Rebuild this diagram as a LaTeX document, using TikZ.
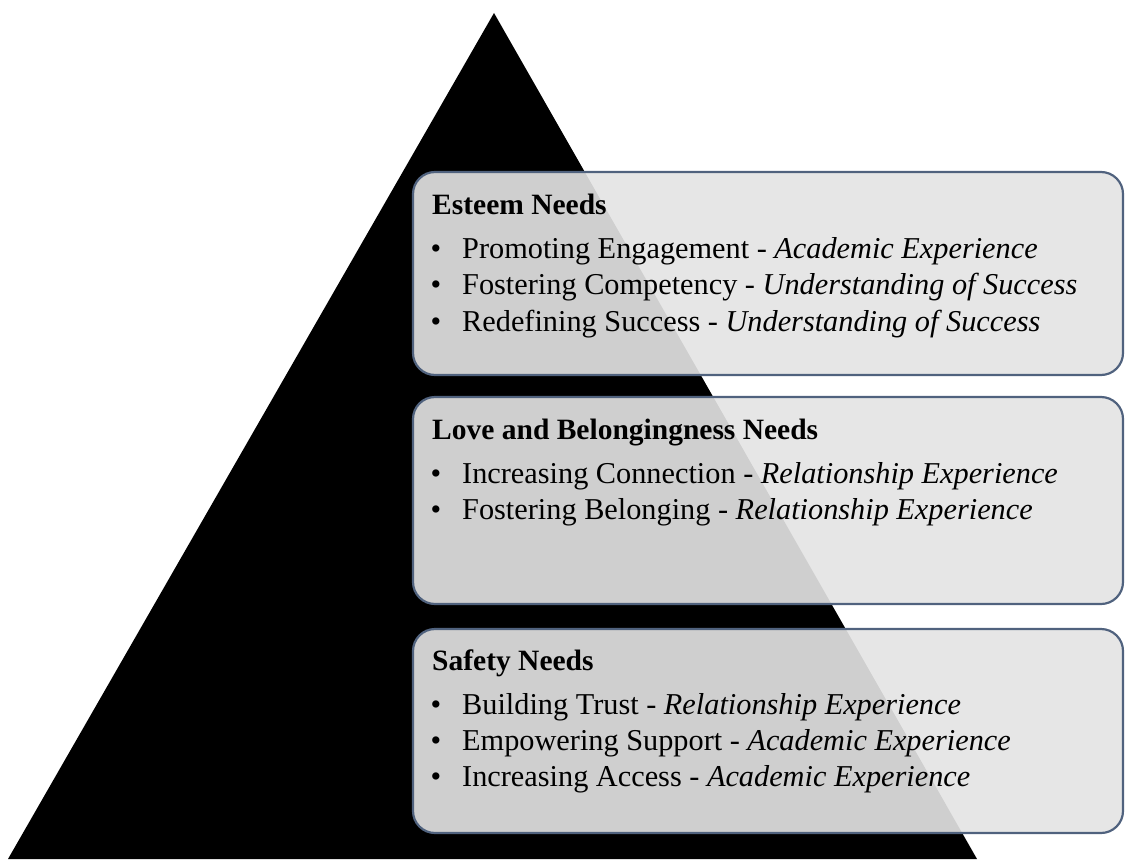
\documentclass[tikz,border=0pt]{standalone}
\usepackage{fontspec}
\setmainfont{Liberation Serif}
\begin{document}
\begin{tikzpicture}[x=1pt,y=-1pt,
  needbox/.style={draw=boxedge, line width=2.2pt, fill=boxfill, fill opacity=0.91,
    rounded corners=22pt},
  title/.style={anchor=base west, inner sep=0pt, font=\fontsize{29.5}{35}\selectfont\bfseries},
  item/.style={anchor=base west, inner sep=0pt, font=\fontsize{30.3}{36}\selectfont},
  dot/.style={anchor=base, inner sep=0pt, font=\fontsize{30.3}{36}\selectfont}]
\definecolor{boxedge}{RGB}{80,98,126}
\definecolor{boxfill}{RGB}{228,228,228}
\useasboundingbox (0,0) rectangle (1126,859);
\clip (0,0) rectangle (1126,859);

% pyramid
\fill[black] (494,13) coordinate (apex) -- (8,859) coordinate (bl) -- (977,859) coordinate (br) -- cycle;

% three tiers
\foreach \name/\top/\bot in {esteem/172/375, love/397/604, safety/629/833}{
  \draw[needbox] (413,\top) rectangle (1123,\bot);
  \coordinate (\name) at (432,\top);
}

% Esteem
\node[title] (t1) at ([yshift=-42pt]esteem) {Esteem Needs};
\node[dot] (b11) at ([shift={(4pt,-86pt)}]esteem) {\textbullet};
\node[item] (e1) at ([shift={(30pt,-86pt)}]esteem) {Promoting Engagement - \textit{Academic Experience}};
\node[dot] (b12) at ([shift={(4pt,-122.5pt)}]esteem) {\textbullet};
\node[item] (e2) at ([shift={(30pt,-122.5pt)}]esteem) {Fostering Competency - \textit{Understanding of Success}};
\node[dot] (b13) at ([shift={(4pt,-159pt)}]esteem) {\textbullet};
\node[item] (e3) at ([shift={(30pt,-159pt)}]esteem) {Redefining Success - \textit{Understanding of Success}};

% Love and belongingness
\node[title] (t2) at ([yshift=-42pt]love) {Love and Belongingness Needs};
\node[dot] (b21) at ([shift={(4pt,-86pt)}]love) {\textbullet};
\node[item] (l1) at ([shift={(30pt,-86pt)}]love) {Increasing Connection - \textit{Relationship Experience}};
\node[dot] (b22) at ([shift={(4pt,-122.5pt)}]love) {\textbullet};
\node[item] (l2) at ([shift={(30pt,-122.5pt)}]love) {Fostering Belonging - \textit{Relationship Experience}};

% Safety
\node[title] (t3) at ([yshift=-41pt]safety) {Safety Needs};
\node[dot] (b31) at ([shift={(4pt,-85pt)}]safety) {\textbullet};
\node[item] (s1) at ([shift={(30pt,-85pt)}]safety) {Building Trust - \textit{Relationship Experience}};
\node[dot] (b32) at ([shift={(4pt,-121pt)}]safety) {\textbullet};
\node[item] (s2) at ([shift={(30pt,-121pt)}]safety) {Empowering Support - \textit{Academic Experience}};
\node[dot] (b33) at ([shift={(4pt,-157pt)}]safety) {\textbullet};
\node[item] (s3) at ([shift={(30pt,-157pt)}]safety) {Increasing Access - \textit{Academic Experience}};
\end{tikzpicture}
\end{document}
